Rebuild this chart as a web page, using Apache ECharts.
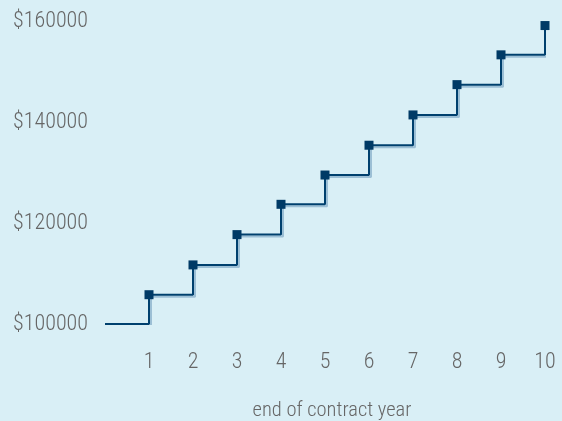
<!DOCTYPE html>
<html>
<head>
<meta charset="utf-8">
<script src="https://cdn.jsdelivr.net/npm/echarts@6/dist/echarts.min.js"></script>
<style>
html,body{margin:0;padding:0;background:#d9eff6;}
#c{width:562px;height:421px;}
</style>
</head>
<body>
<div id="c"></div>
<script>
var years = [0, 1, 2, 3, 4, 5, 6, 7, 8, 9, 10];
var salary = [100000, 105800, 111700, 117700, 123700, 129500, 135400, 141400, 147400, 153300, 159100];
var yTicks = [100000, 120000, 140000, 160000];
var xTitle = 'end of contract year';

var chart = echarts.init(document.getElementById('c'), null, {renderer: 'canvas'});
var data = years.map(function (x, i) {
  var item = {value: [x, salary[i]]};
  if (i === 0) item.symbol = 'none';
  return item;
});
var fontFam = '"Liberation Sans Narrow", "Roboto Condensed", Roboto, sans-serif';
chart.setOption({
  backgroundColor: '#d9eff6',
  animation: false,
  grid: {left: 105, right: 17, top: 21, bottom: 97, containLabel: false, outerBoundsMode: 'none'},
  xAxis: {
    type: 'value', min: 0, max: 10, interval: 1,
    axisLine: {show: false}, axisTick: {show: false}, splitLine: {show: false},
    axisLabel: {
      margin: 27, color: '#666666', fontSize: 22, fontFamily: fontFam, fontWeight: 300,
      formatter: function (v) { return v === 0 ? '' : String(v); }
    },
    name: xTitle, nameLocation: 'middle', nameGap: 76,
    nameTextStyle: {color: '#666666', fontSize: 20.5, fontFamily: fontFam, fontWeight: 300, padding: [0, 0, 0, 14]}
  },
  yAxis: {
    type: 'value', min: yTicks[0], max: yTicks[yTicks.length - 1], interval: 20000,
    axisLine: {show: false}, axisTick: {show: false}, splitLine: {show: false},
    axisLabel: {
      margin: 17, color: '#666666', fontSize: 22, fontFamily: fontFam, fontWeight: 300,
      formatter: function (v) { return '$' + v; }
    }
  },
  series: [{
    type: 'line', step: 'end', data: data,
    symbol: 'rect', symbolSize: 9,
    itemStyle: {color: '#003a66'},
    lineStyle: {color: '#00406e', width: 2,
      shadowColor: 'rgba(0,70,130,0.28)', shadowOffsetX: 2, shadowOffsetY: 2, shadowBlur: 0}
  }]
});
</script>
</body>
</html>
